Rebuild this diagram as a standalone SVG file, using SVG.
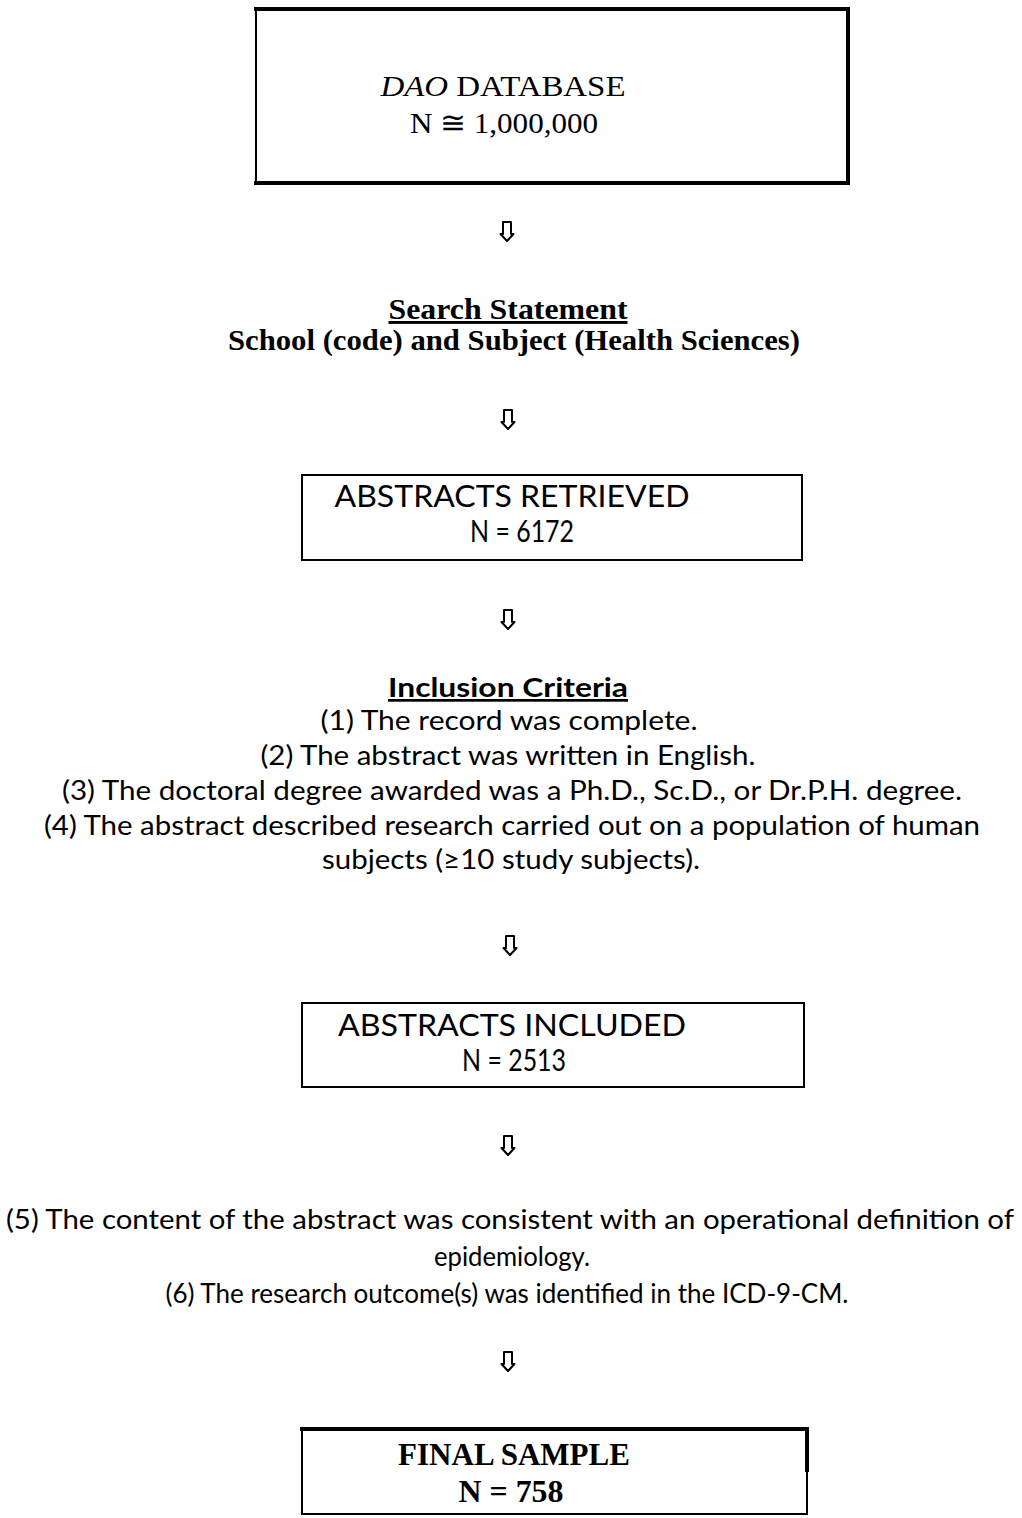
<svg xmlns="http://www.w3.org/2000/svg" width="1022" height="1518" viewBox="0 0 1022 1518">
<style>
.serif{font-family:"Liberation Serif","Times New Roman",serif;fill:#000}
.sans{font-family:"Lato","Noto Sans","Liberation Sans",sans-serif;fill:#000}
.box{fill:#fff;stroke:#000;stroke-width:2}
.thick{stroke:#000;stroke-width:4}
.arr{fill:#fff;stroke:#000;stroke-width:2;stroke-linejoin:round}
text{text-anchor:middle}
</style>
<defs>
<path id="dnarrow" d="M-4,-10 H4 V2 H6.5 L0,9 L-6.5,2 H-4 Z"/>
</defs>
<rect width="1022" height="1518" fill="#fff"/>

<g id="node-database">
<rect class="box" x="256" y="9" width="592" height="174"/>
<line class="thick" x1="254" y1="9" x2="850" y2="9"/>
<line class="thick" x1="254" y1="183" x2="850" y2="183"/>
<line class="thick" x1="848" y1="7" x2="848" y2="185"/>
<text class="serif" x="503" y="96" font-size="30" textLength="245" lengthAdjust="spacingAndGlyphs"><tspan font-style="italic">DAO</tspan> DATABASE</text>
<text class="serif" x="504" y="133" font-size="30" textLength="188" lengthAdjust="spacingAndGlyphs">N ≅ 1,000,000</text>
</g>

<g id="node-search">
<text class="serif" x="508" y="319" font-size="29" font-weight="bold" text-decoration="underline" textLength="239" lengthAdjust="spacingAndGlyphs">Search Statement</text>
<text class="serif" x="514" y="350" font-size="29" font-weight="bold" textLength="572" lengthAdjust="spacingAndGlyphs">School (code) and Subject (Health Sciences)</text>
</g>

<g id="node-retrieved">
<rect class="box" x="302" y="475" width="500" height="85"/>
<text class="sans" x="512" y="507" font-size="31" textLength="355" lengthAdjust="spacingAndGlyphs">ABSTRACTS RETRIEVED</text>
<text class="sans" x="522" y="542" font-size="31" textLength="104" lengthAdjust="spacingAndGlyphs">N = 6172</text>
</g>

<g id="node-inclusion">
<text class="sans" x="508" y="697" font-size="27" font-weight="bold" text-decoration="underline" textLength="240" lengthAdjust="spacingAndGlyphs">Inclusion Criteria</text>
<text class="sans" x="509" y="730" font-size="26" textLength="377" lengthAdjust="spacingAndGlyphs">(1) The record was complete.</text>
<text class="sans" x="508" y="765" font-size="26" textLength="495" lengthAdjust="spacingAndGlyphs">(2) The abstract was written in English.</text>
<text class="sans" x="512" y="800" font-size="26" textLength="900" lengthAdjust="spacingAndGlyphs">(3) The doctoral degree awarded was a Ph.D., Sc.D., or Dr.P.H. degree.</text>
<text class="sans" x="512" y="835" font-size="26" textLength="936" lengthAdjust="spacingAndGlyphs">(4) The abstract described research carried out on a population of human</text>
<text class="sans" x="511" y="869" font-size="26" textLength="378" lengthAdjust="spacingAndGlyphs">subjects (≥10 study subjects).</text>
</g>

<g id="node-included">
<rect class="box" x="302" y="1003" width="502" height="84"/>
<text class="sans" x="512" y="1036" font-size="31" textLength="348" lengthAdjust="spacingAndGlyphs">ABSTRACTS INCLUDED</text>
<text class="sans" x="514" y="1071" font-size="31" textLength="104" lengthAdjust="spacingAndGlyphs">N = 2513</text>
</g>

<g id="node-criteria2">
<text class="sans" x="510" y="1229" font-size="26" textLength="1008" lengthAdjust="spacingAndGlyphs">(5) The content of the abstract was consistent with an operational definition of</text>
<text class="sans" x="512" y="1266" font-size="26" textLength="156" lengthAdjust="spacingAndGlyphs">epidemiology.</text>
<text class="sans" x="507" y="1303" font-size="26" textLength="683" lengthAdjust="spacingAndGlyphs">(6) The research outcome(s) was identified in the ICD-9-CM.</text>
</g>

<g id="node-final">
<rect class="box" x="302" y="1429" width="505" height="85"/>
<line class="thick" x1="300" y1="1429" x2="809" y2="1429"/>
<line class="thick" x1="807" y1="1427" x2="807" y2="1472"/>
<text class="serif" x="514" y="1465" font-size="31" font-weight="bold" textLength="232" lengthAdjust="spacingAndGlyphs">FINAL SAMPLE</text>
<text class="serif" x="511" y="1502" font-size="31" font-weight="bold" textLength="105" lengthAdjust="spacingAndGlyphs">N = 758</text>
</g>

<g id="connectors">
<use href="#dnarrow" class="arr" x="507" y="232"/>
<use href="#dnarrow" class="arr" x="508" y="420"/>
<use href="#dnarrow" class="arr" x="508" y="620"/>
<use href="#dnarrow" class="arr" x="510" y="946"/>
<use href="#dnarrow" class="arr" x="508" y="1146"/>
<use href="#dnarrow" class="arr" x="508" y="1362"/>
</g>
</svg>
